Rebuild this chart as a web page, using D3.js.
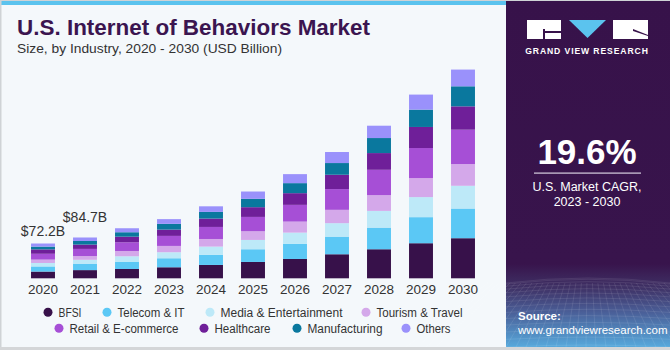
<!DOCTYPE html>
<html><head><meta charset="utf-8">
<script src="https://cdn.jsdelivr.net/npm/d3@7"></script>
<style>
html,body{margin:0;padding:0;background:#fff;}
svg{display:block;font-family:"Liberation Sans",Arial,sans-serif;}
</style></head>
<body><svg id="c" width="670" height="350"></svg>
<script>
const years = ["2020","2021","2022","2023","2024","2025","2026","2027","2028","2029","2030"];
const seriesNames = ["BFSI","Telecom & IT","Media & Entertainment","Tourism & Travel","Retail & E-commerce","Healthcare","Manufacturing","Others"];
const colors = ["#37114a","#5bc8f5","#bde9f8","#d4a8ea","#a64fd6","#6f1f99","#0a789e","#9a91fb"];
const bfsi    = [14.0,17.0,19.3,22.9,27.7,33.9,40.1,49.9,60.3,72.8,83.2];
const telecom = [10.6,13.4,15.2,18.7,20.8,26.4,31.2,36.6,44.9,54.1,61.6];
const media   = [7.2,8.0,11.2,12.5,17.3,19.3,23.5,27.9,34.7,41.6,47.2];
const tourism = [7.0,7.8,11.0,13.1,15.8,18.1,22.9,27.7,32.7,39.5,45.1];
const retail  = [12.1,14.8,18.1,20.8,25.0,29.7,34.7,43.1,52.6,62.4,71.3];
const health  = [9.1,9.0,11.6,13.1,17.3,20.2,24.3,29.7,34.7,43.7,48.5];
const manuf   = [5.8,7.4,9.2,11.9,13.9,17.3,20.8,24.3,31.2,36.0,41.6];
const others  = [6.4,7.3,8.3,9.8,11.6,15.2,18.7,22.9,25.6,31.2,34.7];
const labelYears = ["2020","2021"];
const labelTexts = ["$72.2B","$84.7B"];
const labelTotals = [72.2,84.7];

const seriesVals = [bfsi,telecom,media,tourism,retail,health,manuf,others];
const table = years.map((y,i)=>{const o={year:y};seriesNames.forEach((s,j)=>o[s]=seriesVals[j][i]);return o;});

const svg = d3.select("#c");
const defs = svg.append("defs");

// backgrounds
svg.append("rect").attr("x",0).attr("y",0).attr("width",670).attr("height",350).attr("fill","#f4f8fb");
svg.append("rect").attr("x",0).attr("y",0).attr("width",670).attr("height",1).attr("fill","#cfd3d6");
svg.append("rect").attr("x",0).attr("y",1).attr("width",506).attr("height",4).attr("fill","#5bc3ee");
svg.append("rect").attr("x",0).attr("y",0).attr("width",1.5).attr("height",350).attr("fill","#cfd3d6");
svg.append("rect").attr("x",0).attr("y",347).attr("width",670).attr("height",3).attr("fill","#d4d6d8");

// right panel
const g1 = defs.append("linearGradient").attr("id","pg").attr("x1",0).attr("y1",0).attr("x2",0).attr("y2",1);
[[0,"#37124a"],[0.76,"#38144c"],[0.83,"#3f3266"],[0.9,"#4a5f98"],[1,"#57a9dc"]].forEach(s=>g1.append("stop").attr("offset",s[0]).attr("stop-color",s[1]));
svg.append("rect").attr("x",506).attr("y",1).attr("width",164).attr("height",346).attr("fill","url(#pg)");
const grid = svg.append("g").attr("stroke","#ffffff").attr("stroke-opacity",0.13).attr("stroke-width",0.7).attr("fill","none");
const gridTop = 283, gridBot = 347;
for(let k=0;k<14;k++){
  const t = k/13;
  const yy = gridTop + (gridBot-gridTop)*Math.pow(t,1.6);
  grid.append("path").attr("d",`M506,${yy} Q588,${yy-4-6*(1-t)} 670,${yy}`);
}
for(let k=-10;k<=26;k++){
  const xb = 506 + k*10;
  const xt = 588 + (xb-588)*0.55;
  grid.append("line").attr("x1",xt).attr("y1",gridTop).attr("x2",xb).attr("y2",gridBot);
}

// logo
const logo = svg.append("g");
logo.append("rect").attr("x",527).attr("y",20).attr("width",34).attr("height",19).attr("fill","#fff");
logo.append("path").attr("d","M543,31 L561,31 L561,33 L545,33 Z").attr("fill","#37124a");
logo.append("rect").attr("x",543).attr("y",29).attr("width",2).attr("height",10).attr("fill","#37124a");
logo.append("path").attr("d","M569,20 L606,20 L587.5,38 Z").attr("fill","#5bc3ee");
logo.append("rect").attr("x",613).attr("y",20).attr("width",35).attr("height",19).attr("fill","#fff");
logo.append("path").attr("d","M633,29 L648,35 L648,36 L633,31 Z").attr("fill","#37124a");
svg.append("text").attr("x",587).attr("y",54).attr("text-anchor","middle").attr("fill","#fff")
  .attr("font-size",8.6).attr("font-weight","bold").attr("letter-spacing",0.9).text("GRAND VIEW RESEARCH");

svg.append("text").attr("x",587).attr("y",164).attr("text-anchor","middle").attr("fill","#fff")
  .attr("font-size",35).attr("font-weight","bold").text("19.6%");
svg.append("rect").attr("x",534).attr("y",172.5).attr("width",107).attr("height",1.2).attr("fill","#d8cfe0");
svg.append("text").attr("x",587).attr("y",191).attr("text-anchor","middle").attr("fill","#fff").attr("font-size",12.5).text("U.S. Market CAGR,");
svg.append("text").attr("x",587).attr("y",206).attr("text-anchor","middle").attr("fill","#fff").attr("font-size",12.5).text("2023 - 2030");
svg.append("text").attr("x",518).attr("y",320).attr("fill","#fff").attr("font-size",11.5).attr("font-weight","bold").text("Source:");
svg.append("text").attr("x",518).attr("y",334).attr("fill","#fff").attr("font-size",11.5).text("www.grandviewresearch.com");

// title
svg.append("text").attr("x",17).attr("y",35).attr("fill","#3b1550").attr("font-size",22).attr("font-weight","bold")
  .attr("textLength",353).attr("lengthAdjust","spacingAndGlyphs").text("U.S. Internet of Behaviors Market");
svg.append("text").attr("x",17).attr("y",53).attr("fill","#333").attr("font-size",13.5)
  .attr("textLength",265).attr("lengthAdjust","spacingAndGlyphs").text("Size, by Industry, 2020 - 2030 (USD Billion)");

// scales
const x = d3.scaleBand().domain(years).range([22,484]).paddingInner(0.43).paddingOuter(0.215);
const y = d3.scaleLinear().domain([0,440]).range([278.3,66.3]);
const stack = d3.stack().keys(seriesNames)(table);

const bars = svg.append("g");
stack.forEach((layer,li)=>{
  bars.append("g").attr("fill",colors[li]).selectAll("rect").data(layer).join("rect")
    .attr("x",d=>x(d.data.year)).attr("width",x.bandwidth())
    .attr("y",d=>y(d[1])).attr("height",d=>y(d[0])-y(d[1]));
});

// axis
const ax = svg.append("g").attr("transform","translate(0,278.3)").call(d3.axisBottom(x).tickSize(0).tickPadding(6));
ax.select(".domain").remove();
ax.selectAll("text").attr("font-size",13.5).attr("fill","#333").attr("font-family","Liberation Sans, Arial, sans-serif");

// value labels
const labelGap = [8,15];
labelYears.forEach((yr,i)=>{
  svg.append("text").attr("x",x(yr)+x.bandwidth()/2).attr("y",y(labelTotals[i])-labelGap[i])
    .attr("text-anchor","middle").attr("fill","#333").attr("font-size",14).text(labelTexts[i]);
});

// legend
const legendPos = [[48,312.3],[107,312.3],[210,312.3],[366,312.3],[59,328.3],[204,328.3],[297,328.3],[406,328.3]];
const legendW = [23,67,122,86,109,56,75,34];
seriesNames.forEach((s,i)=>{
  const [cx,cy] = legendPos[i];
  svg.append("circle").attr("cx",cx).attr("cy",cy).attr("r",4.5).attr("fill",colors[i]);
  svg.append("text").attr("x",cx+10.5).attr("y",cy+4.3).attr("fill","#333").attr("font-size",12.5)
    .attr("textLength",legendW[i]).attr("lengthAdjust","spacingAndGlyphs").text(s);
});
</script></body></html>
